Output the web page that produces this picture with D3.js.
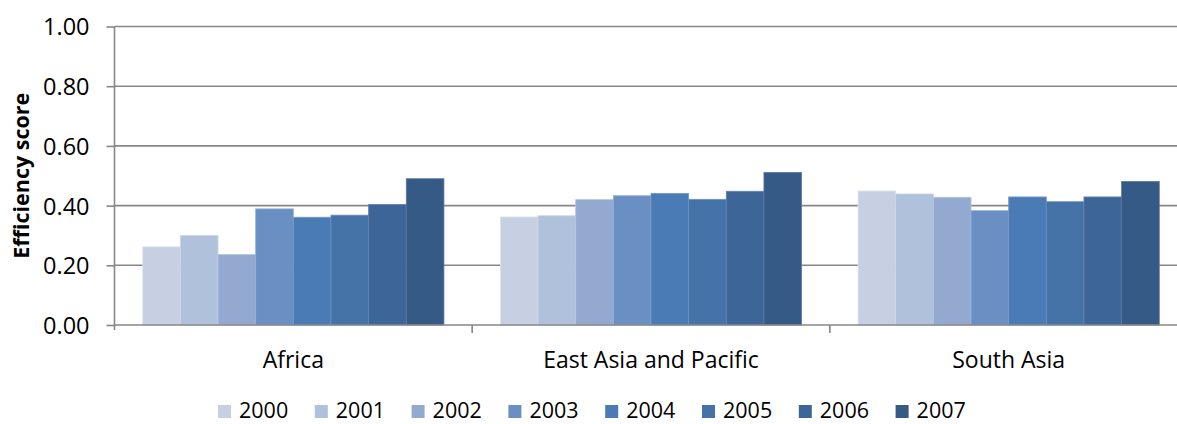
<!DOCTYPE html>
<html>
<head>
<meta charset="utf-8">
<script src="https://cdn.jsdelivr.net/npm/d3@7"></script>
<style>
  html, body { margin: 0; padding: 0; background: #fff; overflow: hidden; }
  svg { display: block; }
  text { font-family: "Open Sans", "Noto Sans", sans-serif; fill: #000; }
</style>
</head>
<body>
<svg id="chart" width="1177" height="424"></svg>
<script>
// Regions along the category axis
const regions = ["Africa", "East Asia and Pacific", "South Asia"];
// One series per year
const years = ["2000", "2001", "2002", "2003", "2004", "2005", "2006", "2007"];
// Efficiency score per year, in region order
const scores2000 = [0.262, 0.362, 0.449];
const scores2001 = [0.300, 0.366, 0.439];
const scores2002 = [0.236, 0.420, 0.428];
const scores2003 = [0.389, 0.433, 0.383];
const scores2004 = [0.361, 0.441, 0.429];
const scores2005 = [0.368, 0.421, 0.413];
const scores2006 = [0.404, 0.448, 0.429];
const scores2007 = [0.490, 0.511, 0.481];
const yTicks = [0, 0.2, 0.4, 0.6, 0.8, 1.0];
const yTitle = "Efficiency score";

const seriesValues = [scores2000, scores2001, scores2002, scores2003,
                      scores2004, scores2005, scores2006, scores2007];
const colors = ["#c7d0e3", "#b0c1dc", "#94a9d0", "#6a8fc2",
                "#4a7bb5", "#4572a7", "#3d6597", "#355a86"];
const strokes = ["#dde3ef", "#cad5e8", "#b5c4e0", "#92addb",
                 "#7499cb", "#6b8fbf", "#6482b1", "#5c789f"];

const svg = d3.select("#chart");
const plotLeft = 114.5, plotRight = 1187.5, plotTop = 26.5, plotBottom = 325;

const x0 = d3.scaleBand().domain(regions).range([plotLeft, plotRight]).paddingInner(0).paddingOuter(0);
// Gap between clusters is 1.5 bar widths
const gapRatio = 1.5 / (8 + 1.5);
const x1 = d3.scaleBand().domain(years).range([0, x0.bandwidth() * (1 - gapRatio)]).padding(0);
const y = d3.scaleLinear().domain([0, 1]).range([plotBottom, plotTop]);

// Horizontal gridlines
svg.append("g").selectAll("line").data(yTicks.slice(1)).join("line")
  .attr("x1", plotLeft).attr("x2", 1177)
  .attr("y1", d => y(d)).attr("y2", d => y(d))
  .attr("stroke", "#878787").attr("stroke-width", 1.6);

// Bars
const groups = svg.append("g").selectAll("g").data(regions).join("g")
  .attr("transform", r => `translate(${x0(r) + x0.bandwidth() * gapRatio / 2},0)`);

groups.selectAll("rect")
  .data((r, ri) => years.map((yr, si) => ({ yr, si, v: seriesValues[si][ri] })))
  .join("rect")
  .attr("x", d => x1(d.yr))
  .attr("y", d => y(d.v))
  .attr("width", x1.bandwidth())
  .attr("height", d => plotBottom - y(d.v))
  .attr("fill", d => colors[d.si])
  .attr("stroke", d => strokes[d.si])
  .attr("stroke-width", 0.8);

// Y axis
const yAxis = d3.axisLeft(y).tickValues(yTicks).tickFormat(d3.format(".2f"))
  .tickSize(8).tickPadding(16);
const yg = svg.append("g").attr("transform", `translate(${plotLeft},0)`).call(yAxis);
yg.select(".domain").attr("stroke", "#878787").attr("stroke-width", 1.6)
  .attr("d", `M0,${plotTop}V${plotBottom + 5}`);
yg.selectAll(".tick line").attr("stroke", "#878787").attr("stroke-width", 1.6);
yg.selectAll(".tick text").style("font-size", "23.5px").attr("dy", "0.36em")
  .attr("x", -25);

// X axis
const xAxis = d3.axisBottom(x0).tickSize(0).tickPadding(17);
const xg = svg.append("g").attr("transform", `translate(0,${plotBottom})`).call(xAxis);
xg.select(".domain").attr("stroke", "#878787").attr("stroke-width", 1.6)
  .attr("d", `M${plotLeft},0H1177`);
xg.selectAll(".tick text").style("font-size", "23px").attr("dy", "1.15em");
// Separators between region clusters
svg.append("g").selectAll("line").data(regions.slice(1)).join("line")
  .attr("x1", r => x0(r)).attr("x2", r => x0(r))
  .attr("y1", plotBottom).attr("y2", plotBottom + 8)
  .attr("stroke", "#878787").attr("stroke-width", 1.6);

// Y axis title
svg.append("text")
  .attr("transform", `translate(29,${(plotTop + plotBottom) / 2}) rotate(-90)`)
  .attr("text-anchor", "middle")
  .style("font-size", "21.5px").style("font-weight", "bold")
  .text(yTitle);

// Legend
const legend = svg.append("g").attr("transform", "translate(218,0)");
const item = legend.selectAll("g").data(years).join("g")
  .attr("transform", (d, i) => `translate(${i * 96.8},0)`);
item.append("rect").attr("x", 0).attr("y", 405).attr("width", 13).attr("height", 13)
  .attr("fill", (d, i) => colors[i]);
item.append("text").attr("x", 21).attr("y", 418)
  .style("font-size", "21.5px").text(d => d);
</script>
</body>
</html>
